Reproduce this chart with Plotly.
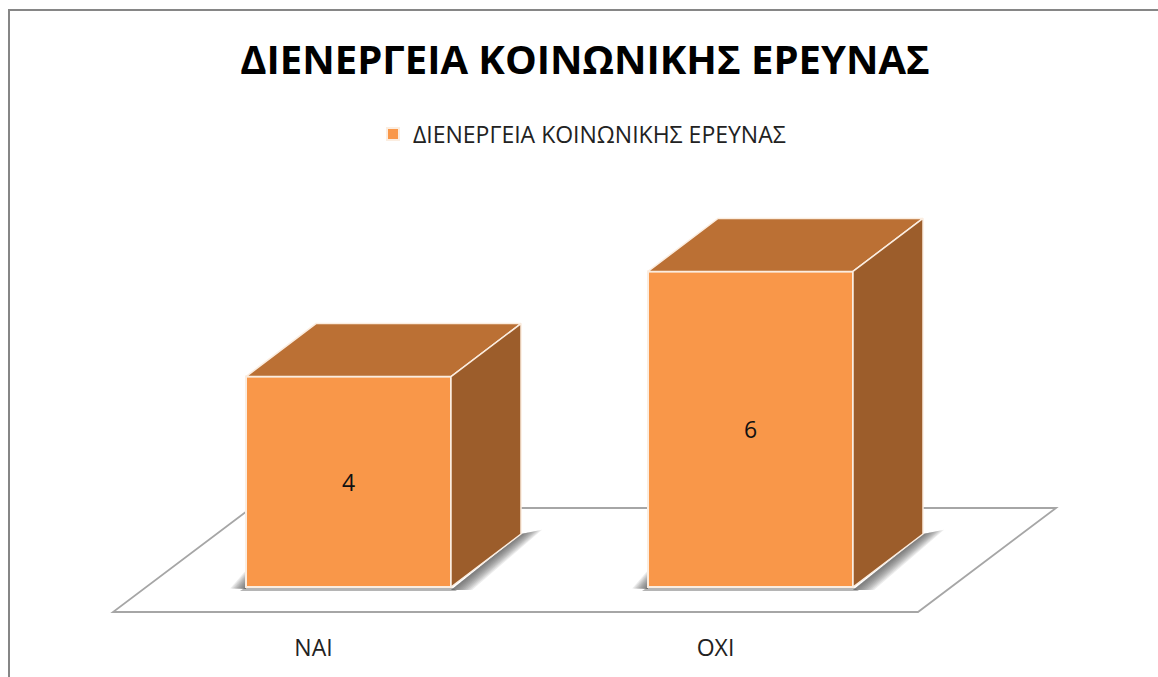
import plotly.graph_objects as go

# Data
CATEGORIES = ["ΝΑΙ", "ΟΧΙ"]
VALUES = [4, 6]
SERIES_NAME = "ΔΙΕΝΕΡΓΕΙΑ ΚΟΙΝΩΝΙΚΗΣ ΕΡΕΥΝΑΣ"
TITLE = "ΔΙΕΝΕΡΓΕΙΑ ΚΟΙΝΩΝΙΚΗΣ ΕΡΕΥΝΑΣ"

# Geometry in axis units
W, H = 1158, 677
PLOT_BOTTOM = 632
PX_X = 402.0      # pixels per category step
PX_Y = 52.6       # pixels per value unit
X0_PX, Y0_PX = 348.5, 587.0
BAR_W = 205 / PX_X
DX = 70 / PX_X    # depth of the 3D effect
DY = 53 / PX_Y
LABEL_SHIFT = -35 / PX_X

FRONT, TOP, SIDE = "#F99749", "#BB7034", "#9C5D2B"
EDGE = "#FBEDE0"
FLOOR_LINE = "#A6A6A6"
positions = list(range(len(CATEGORIES)))


def ux(p):
    return (p - X0_PX) / PX_X


def uy(p):
    return (Y0_PX - p) / PX_Y


def path(pts):
    return "M" + " L".join(f"{a:.4f},{b:.4f}" for a, b in pts) + " Z"


fig = go.Figure()

fig.add_trace(go.Bar(
    x=positions, y=VALUES, width=BAR_W, name=SERIES_NAME,
    marker=dict(color=FRONT, line=dict(color=EDGE, width=2)),
    text=[str(v) for v in VALUES], textposition="inside", insidetextanchor="middle",
    textangle=0, constraintext="none",
    textfont=dict(family="Open Sans", size=23, color="#111111"),
    hoverinfo="skip",
))

for p, v in zip(positions, VALUES):
    l, r = p - BAR_W / 2, p + BAR_W / 2
    # top face
    fig.add_trace(go.Scatter(
        x=[l, r, r + DX, l + DX, l], y=[v, v, v + DY, v + DY, v],
        mode="lines", fill="toself", fillcolor=TOP,
        line=dict(color=EDGE, width=1.5), showlegend=False, hoverinfo="skip"))
    # side face
    fig.add_trace(go.Scatter(
        x=[r, r + DX, r + DX, r, r], y=[0, DY, v + DY, v, 0],
        mode="lines", fill="toself", fillcolor=SIDE,
        line=dict(color=EDGE, width=1.5), showlegend=False, hoverinfo="skip"))

shapes = []
# floor
floor = [(ux(113), uy(612)), (ux(918), uy(612)), (ux(1056), uy(508)), (ux(251), uy(508))]
shapes.append(dict(type="path", path=path(floor), xref="x", yref="y", layer="below",
                   fillcolor="#FFFFFF", line=dict(color=FLOOR_LINE, width=1.8)))
# soft shadows at each bar's base
for p in positions:
    l, r = p - BAR_W / 2, p + BAR_W / 2
    for e in (21, 19, 17, 15, 13, 11, 9, 7, 5, 3):
        ex, ey = e / PX_X, e / PX_Y
        right = [(r, -3 / PX_Y), (r + ex, -3 / PX_Y), (r + DX + ex, DY + 0.2 * ey),
                 (r + DX, DY)]
        left = [(l - ex * 0.75, -1.5 / PX_Y), (l, 0.8 * ey), (l, -2 / PX_Y)]
        for poly in (right, left):
            shapes.append(dict(type="path", path=path(poly), xref="x", yref="y", layer="below",
                               fillcolor="rgba(70,70,70,0.10)", line=dict(width=0)))
    base = [(l - 6 / PX_X, -4 / PX_Y), (r + 6 / PX_X, -4 / PX_Y), (r, 0), (l, 0)]
    shapes.append(dict(type="path", path=path(base), xref="x", yref="y", layer="below",
                       fillcolor="rgba(90,90,90,0.45)", line=dict(width=0)))
# chart frame: only its top and left edges fall inside the window
frame_y = (PLOT_BOTTOM - 10) / PLOT_BOTTOM
shapes.append(dict(type="path", path=f"M{9 / W},-0.1 L{9 / W},{frame_y} L1.01,{frame_y}",
                   xref="paper", yref="paper", layer="above",
                   line=dict(color="#868686", width=2)))

fig.update_layout(
    width=W, height=H, autosize=False,
    margin=dict(l=0, r=0, t=0, b=H - PLOT_BOTTOM, pad=0),
    paper_bgcolor="white", plot_bgcolor="rgba(0,0,0,0)",
    font=dict(family="Open Sans", color="#1a1a1a"),
    title=dict(text=f"<b>{TITLE}</b>", x=585 / W, xanchor="center", xref="paper",
               y=1 - 60 / H, yanchor="middle",
               font=dict(family="Open Sans", size=40, color="#000000")),
    legend=dict(orientation="h", x=582 / W, xanchor="center", y=1 - 134 / PLOT_BOTTOM, yanchor="middle",
                font=dict(family="Open Sans", size=23, color="#222222"),
                bgcolor="rgba(0,0,0,0)", itemwidth=30),
    showlegend=True,
    xaxis=dict(range=[ux(0), ux(W)], tickmode="array",
               tickvals=[p + LABEL_SHIFT for p in positions], ticktext=CATEGORIES,
               showgrid=False, zeroline=False, showline=False, ticks="",
               tickfont=dict(family="Open Sans", size=23, color="#222222")),
    yaxis=dict(range=[uy(PLOT_BOTTOM), uy(0)], visible=False, showgrid=False, zeroline=False),
    shapes=shapes,
)

fig.write_html("out.html", config=dict(displayModeBar=False),
               post_script="document.body.style.margin='0';document.body.style.overflow='hidden';")
